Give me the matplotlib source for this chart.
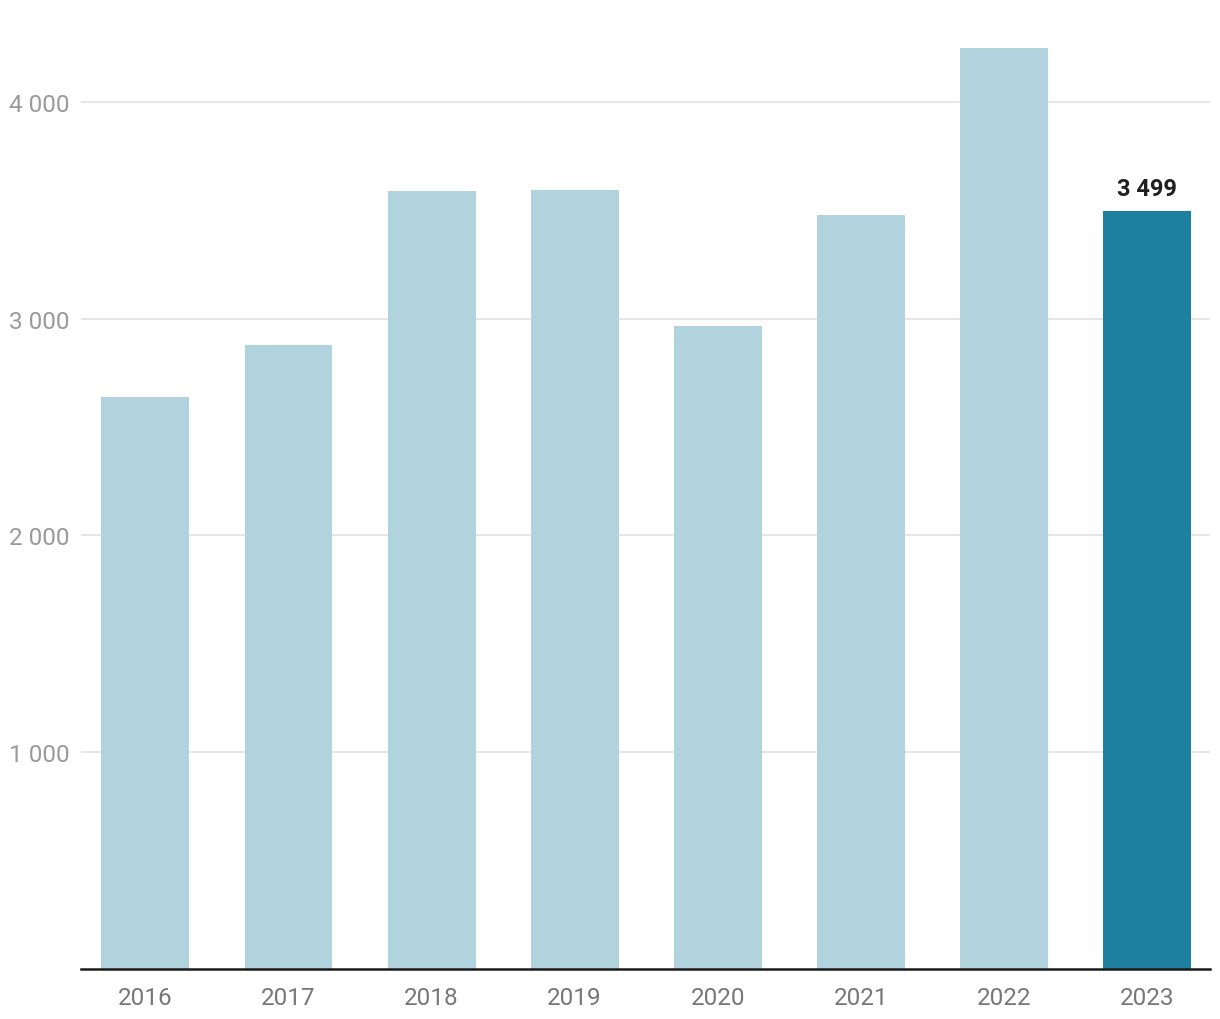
import matplotlib.pyplot as plt

plt.rcParams['font.family'] = ['Roboto', 'DejaVu Sans']

years = ["2016", "2017", "2018", "2019", "2020", "2021", "2022", "2023"]
values = [2639, 2879, 3589, 3594, 2967, 3479, 4249, 3499]
yticks = [1000, 2000, 3000, 4000]
yticklabels = ["1 000", "2 000", "3 000", "4 000"]

light = "#b1d3dd"
dark = "#1d80a1"

fig = plt.figure(figsize=(12.2, 10.2), dpi=100)
ax = fig.add_axes([81 / 1220, 50 / 1020, 1129 / 1220, 970 / 1020])

colors = [light] * (len(years) - 1) + [dark]
ax.bar(range(len(years)), values, width=0.614, color=colors, zorder=2)

ax.set_xlim(-0.45, len(years) - 1 + 0.44)
ax.set_ylim(0, 4475)
ax.set_yticks(yticks)
ax.set_yticklabels(yticklabels)
ax.set_xticks(range(len(years)))
ax.set_xticklabels(years)
ax.grid(axis="y", color="#e2e2e2", linewidth=1.2, zorder=0)
ax.tick_params(axis="y", length=0, pad=8, labelsize=17.5, labelcolor="#9a9a9a")
ax.tick_params(axis="x", length=0, pad=12.5, labelsize=17.5, labelcolor="#777777")

for s in ["top", "right", "left"]:
    ax.spines[s].set_visible(False)
ax.spines["bottom"].set_color("#1a1a1a")
ax.spines["bottom"].set_linewidth(1.8)
ax.spines["bottom"].set_zorder(3)

ax.annotate("3 499", (len(years) - 1, values[-1]), xytext=(0, 7.5),
            textcoords="offset points", ha="center", va="bottom",
            fontsize=17, fontweight="bold", color="#1f1f1f")

fig.savefig("out.png", dpi=100)
